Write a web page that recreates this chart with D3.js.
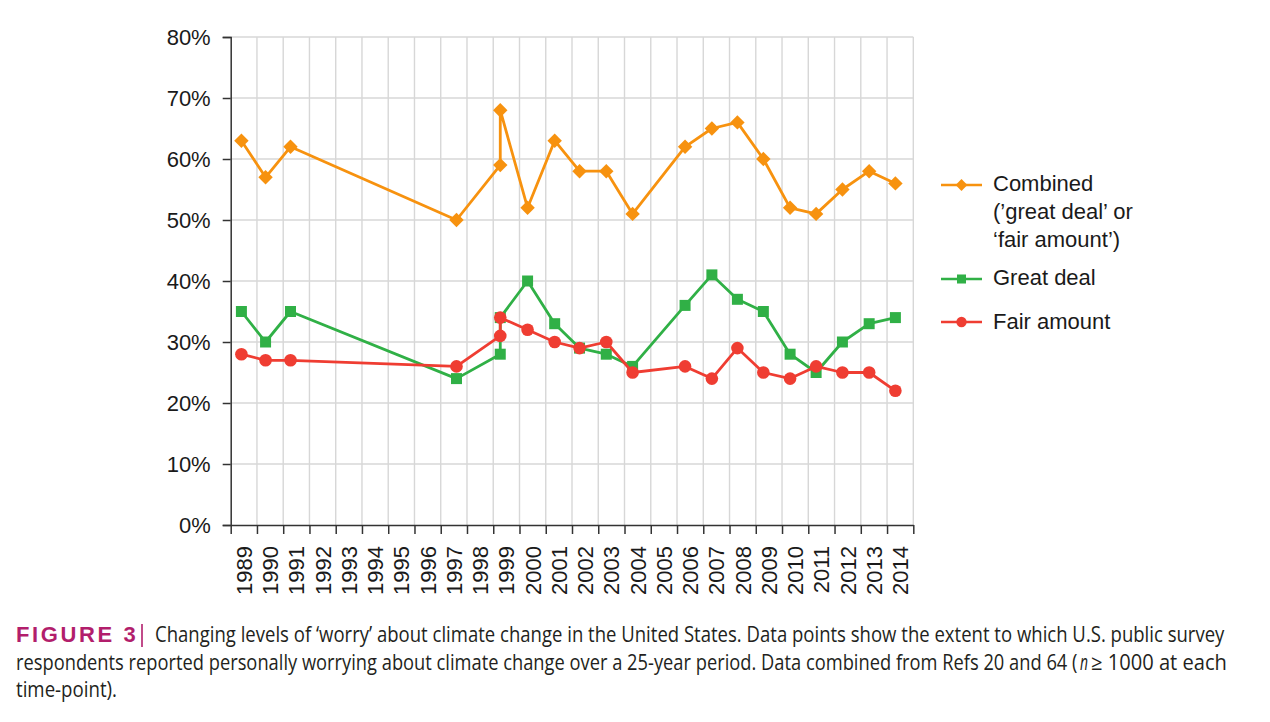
<!DOCTYPE html>
<html lang="en">

<head>
  <meta charset="UTF-8">
  <title>Worry about climate change</title>
  <script src="https://cdn.jsdelivr.net/npm/d3@7"></script>
  <style>
    body { margin: 0; background: #fff; }
  </style>
</head>

<body>
</body>
<script>
  // tick labels (one category per year)
  const years = ["1989", "1990", "1991", "1992", "1993", "1994", "1995", "1996", "1997", "1998", "1999", "2000", "2001",
    "2002", "2003", "2004", "2005", "2006", "2007", "2008", "2009", "2010", "2011", "2012", "2013", "2014"]
  const yTicks = [0, 0.1, 0.2, 0.3, 0.4, 0.5, 0.6, 0.7, 0.8]

  // survey dates (two surveys in 1999)
  const surveyDates = ["1989-05-30", "1990-05-01", "1991-04-13", "1997-08-08", "1999-04-09", "1999-04-09",
    "2000-04-23", "2001-05-05", "2002-04-16", "2003-04-23", "2004-04-23", "2006-04-23", "2007-05-01",
    "2008-04-20", "2009-04-16", "2010-04-23", "2011-04-20", "2012-04-20", "2013-04-27", "2014-04-27"]

  // percentages
  const combined = [63, 57, 62, 50, 59, 68, 52, 63, 58, 58, 51, 62, 65, 66, 60, 52, 51, 55, 58, 56]
  const greatDeal = [35, 30, 35, 24, 28, 34, 40, 33, 29, 28, 26, 36, 41, 37, 35, 28, 25, 30, 33, 34]
  const fairAmount = [28, 27, 27, 26, 31, 34, 32, 30, 29, 30, 25, 26, 24, 29, 25, 24, 26, 25, 25, 22]

  const width = 1270
  const height = 722
  const marge = { left: 230.7, right: 913.3, top: 37, bottom: 525 }
  const font = "'Liberation Sans', Arial, Helvetica, sans-serif"

  const svg = d3.select("body")
    .append("svg")
    .attr("width", width)
    .attr("height", height)
    .style("font-family", font)

  const parse = d3.timeParse("%Y-%m-%d")
  const dates = surveyDates.map(parse)

  const xBand = d3.scaleBand().domain(years).range([marge.left, marge.right])
  const xEdge = d3.scaleLinear().domain([0, years.length]).range([marge.left, marge.right])
  const xTime = d3.scaleTime()
    .domain([parse("1989-01-01"), parse("2015-01-01")])
    .range([marge.left, marge.right])
  const y = d3.scaleLinear().domain([0, 0.8]).range([marge.bottom, marge.top])

  // grid
  const grid = svg.append("g").attr("stroke", "#d7d7d7").attr("stroke-width", 1.4)
  grid.selectAll("line.v")
    .data(d3.range(1, years.length + 1))
    .enter()
    .append("line")
    .attr("x1", d => xEdge(d)).attr("x2", d => xEdge(d))
    .attr("y1", marge.top).attr("y2", marge.bottom)
  grid.selectAll("line.h")
    .data(yTicks.slice(1))
    .enter()
    .append("line")
    .attr("x1", marge.left).attr("x2", marge.right)
    .attr("y1", d => y(d)).attr("y2", d => y(d))

  // y axis
  const yAxis = svg.append("g")
    .attr("transform", "translate(" + marge.left + ",0)")
    .call(d3.axisLeft(y).tickValues(yTicks).tickFormat(d3.format(".0%")).tickSize(8).tickPadding(12))
  yAxis.select(".domain").attr("stroke", "#333").attr("stroke-width", 1.5)
  yAxis.selectAll(".tick line").attr("stroke", "#333").attr("stroke-width", 1.5)
  yAxis.selectAll("text").attr("font-size", 22).attr("font-family", font).attr("fill", "#1a1a1a").attr("dy", "0.34em")

  // x axis: ticks at category edges, labels in the middle
  const xTicks = svg.append("g")
    .attr("transform", "translate(0," + marge.bottom + ")")
    .call(d3.axisBottom(xEdge).tickValues(d3.range(0, years.length + 1)).tickFormat("").tickSize(9).tickSizeOuter(0))
  xTicks.select(".domain").attr("stroke", "#333").attr("stroke-width", 1.5)
  xTicks.selectAll(".tick line").attr("stroke", "#333").attr("stroke-width", 1.5)

  const xLabels = svg.append("g")
    .attr("transform", "translate(0," + marge.bottom + ")")
    .call(d3.axisBottom(xBand).tickSize(0))
  xLabels.select(".domain").remove()
  xLabels.selectAll("text")
    .attr("font-size", 22)
    .attr("font-family", font)
    .attr("fill", "#1a1a1a")
    .attr("text-anchor", "end")
    .attr("transform", "rotate(-90)")
    .attr("x", -21)
    .attr("y", 0)
    .attr("dy", "0.36em")

  // series
  const series = [
    { name: "combined", values: combined, color: "#f7920f", shape: "diamond" },
    { name: "great", values: greatDeal, color: "#30b046", shape: "square" },
    { name: "fair", values: fairAmount, color: "#ef3d32", shape: "circle" }
  ]

  const line = d3.line()
    .x(d => xTime(d.date))
    .y(d => y(d.v / 100))

  function marker(sel, s, k) {
    if (s.shape === "circle") {
      sel.append("circle").attr("r", 6.3 * k).attr("fill", s.color)
    } else if (s.shape === "square") {
      sel.append("path").attr("d", d3.symbol(d3.symbolSquare, 121 * k * k)()).attr("fill", s.color)
    } else {
      sel.append("path").attr("d", d3.symbol(d3.symbolSquare, 104 * k * k)())
        .attr("transform", "rotate(45)").attr("fill", s.color)
    }
  }

  series.forEach(s => {
    const pts = s.values.map((v, i) => ({ v: v, date: dates[i] }))
    const g = svg.append("g")
    g.append("path")
      .attr("d", line(pts))
      .attr("fill", "none")
      .attr("stroke", s.color)
      .attr("stroke-width", 2.8)
      .attr("stroke-linejoin", "round")
    g.selectAll("g")
      .data(pts)
      .enter()
      .append("g")
      .attr("transform", d => "translate(" + xTime(d.date) + "," + y(d.v / 100) + ")")
      .each(function () { marker(d3.select(this), s, 1) })
  })

  // legend
  const legendItems = [
    { s: series[0], lineY: 185, lines: ["Combined", "(’great deal’ or", "‘fair amount’)"], baseline: 191 },
    { s: series[1], lineY: 279, lines: ["Great deal"], baseline: 284.5 },
    { s: series[2], lineY: 322, lines: ["Fair amount"], baseline: 328.5 }
  ]
  const legend = svg.append("g")
  legendItems.forEach(item => {
    legend.append("line")
      .attr("x1", 941).attr("x2", 982)
      .attr("y1", item.lineY).attr("y2", item.lineY)
      .attr("stroke", item.s.color).attr("stroke-width", 2.3)
    const m = legend.append("g").attr("transform", "translate(961.5," + item.lineY + ")")
    marker(m, item.s, 0.82)
    item.lines.forEach((t, i) => {
      legend.append("text")
        .attr("x", 993)
        .attr("y", item.baseline + i * 28)
        .attr("font-size", 22)
        .attr("fill", "#1a1a1a")
        .text(t)
    })
  })

  // caption: each piece is squeezed horizontally to the width it has in the figure
  const capFont = "'Open Sans', 'Noto Sans', sans-serif"
  const cap = svg.append("g").style("font-family", capFont).attr("fill", "#231f20")

  function capText(x, yy, w, t, italic) {
    const txt = cap.append("text")
      .attr("font-size", 21)
      .attr("font-style", italic ? "italic" : "normal")
      .text(t)
    const w0 = txt.node().getComputedTextLength()
    txt.attr("transform", "translate(" + x + "," + yy + ") scale(" + (w / w0) + ",1)")
    return txt
  }

  const fig = cap.append("text")
    .attr("font-size", 22).attr("font-weight", "bold")
    .attr("fill", "#b21e6c")
    .attr("font-family", "'Liberation Sans', Arial, sans-serif")
    .attr("letter-spacing", 2.6)
    .text("FIGURE 3")
  fig.attr("transform", "translate(16,642)")
  cap.append("line")
    .attr("x1", 142).attr("x2", 142)
    .attr("y1", 624).attr("y2", 647)
    .attr("stroke", "#b21e6c").attr("stroke-width", 1.6)

  capText(155, 642, 1070, "Changing levels of ‘worry’ about climate change in the United States. Data points show the extent to which U.S. public survey")
  capText(16, 669.5, 1062, "respondents reported personally worrying about climate change over a 25-year period. Data combined from Refs 20 and 64 (")
  capText(1080, 669.5, 8, "n", true)
  capText(1091, 669.5, 136, "≥ 1000 at each")
  capText(16, 697, 101, "time-point).")
</script>

</html>
